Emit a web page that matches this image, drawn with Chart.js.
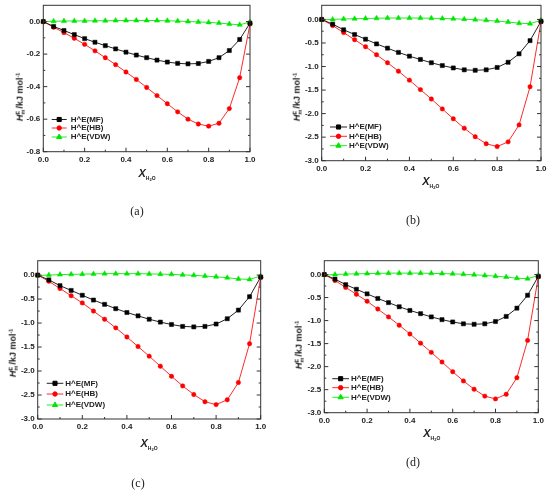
<!DOCTYPE html>
<html>
<head>
<meta charset="utf-8">
<script src="https://cdn.jsdelivr.net/npm/chart.js@4.4.0/dist/chart.umd.min.js"></script>
<style>
  body { margin: 0; background: #fff; }
  #fig { position: relative; width: 550px; height: 490px; overflow: hidden; font-family: "Liberation Sans", Arial, sans-serif; color: #222; }
  #fig canvas { position: absolute; }
  .xt { position: absolute; font-size: 11px; font-weight: bold; line-height: 13px; white-space: nowrap; }
  .xt i { font-style: italic; }
  .xt .s1 { font-size: 5px; font-style: normal; position: relative; top: 3px; }
  .xt .s2 { font-size: 4px; position: relative; top: 1px; }
  .yt { position: absolute; font-size: 9px; font-weight: bold; white-space: nowrap; transform: translate(-50%, -50%) rotate(-90deg); line-height: 10px; }
  .yt .ss { display: inline-block; vertical-align: middle; font-size: 5.5px; line-height: 5px; text-align: left; margin-right: 1px; }
  .yt .ss span { display: block; }
  .yt sup { font-size: 5.5px; vertical-align: 3px; }
  .tag { position: absolute; font-family: "Liberation Serif", "DejaVu Serif", serif; font-size: 12px; transform: translate(-50%, -50%); }
</style>
</head>
<body>
<div id="fig"></div>
<script>
// DATA
const xValues = [0, 0.05, 0.1, 0.15, 0.2, 0.25, 0.3, 0.35, 0.4, 0.45, 0.5, 0.55, 0.6, 0.65, 0.7, 0.75, 0.8, 0.85, 0.9, 0.95, 1.0];
const seriesNames = ["H^E(MF)", "H^E(HB)", "H^E(VDW)"];

// panel (a)
const mfA = [0, -0.03, -0.055, -0.08, -0.105, -0.127, -0.148, -0.168, -0.188, -0.206, -0.222, -0.237, -0.249, -0.257, -0.26, -0.258, -0.245, -0.222, -0.178, -0.11, -0.01];
const hbA = [0, -0.035, -0.068, -0.103, -0.14, -0.18, -0.222, -0.265, -0.31, -0.356, -0.405, -0.455, -0.505, -0.555, -0.6, -0.63, -0.643, -0.625, -0.535, -0.345, -0.015];
const vdwA = [0, 0.002, 0.003, 0.004, 0.004, 0.005, 0.005, 0.006, 0.007, 0.007, 0.007, 0.006, 0.005, 0.003, 0, -0.002, -0.005, -0.009, -0.015, -0.02, -0.003];

// panels (b), (c), (d)
const mfB = [0, -0.1, -0.22, -0.32, -0.42, -0.52, -0.61, -0.7, -0.78, -0.85, -0.92, -0.98, -1.03, -1.07, -1.08, -1.07, -1.02, -0.91, -0.73, -0.45, -0.04];
const hbB = [0, -0.13, -0.28, -0.43, -0.58, -0.75, -0.92, -1.1, -1.29, -1.49, -1.69, -1.9, -2.11, -2.31, -2.49, -2.64, -2.7, -2.6, -2.24, -1.43, -0.05];
const vdwB = [-0.01, 0, 0.01, 0.015, 0.02, 0.025, 0.03, 0.03, 0.03, 0.03, 0.025, 0.02, 0.015, 0.005, -0.005, -0.02, -0.035, -0.055, -0.08, -0.09, -0.02];

// tick labels
const xTicks = [0, 0.2, 0.4, 0.6, 0.8, 1.0];
const yTicksA = [0, -0.2, -0.4, -0.6, -0.8];
const yTicksB = [0, -0.5, -1.0, -1.5, -2.0, -2.5, -3.0];

// LAYOUT (cell coordinates, each cell 275x245)
const M = 20; // canvas margin around each cell
const panels = [
  { tag: "(a)", cell: [0, 0], area: [43.3, 5.3, 250, 151.7], yMin: -0.8, yMax: 0.1, yTicks: yTicksA, series: [mfA, hbA, vdwA],
    legend: { x1: 51.7, x2: 66.7, tx: 70.7, rows: [119.5, 128, 137] }, xTitle: [143, 173], yTitle: [19, 97], tagPos: [137, 211] },
  { tag: "(b)", cell: [275, 0], area: [46.7, 5.3, 266, 160.7], yMin: -3.0, yMax: 0.3, yTicks: yTicksB, series: [mfB, hbB, vdwB],
    legend: { x1: 55, x2: 72, tx: 74, rows: [127, 136.3, 145.7] }, xTitle: [151.7, 181.5], yTitle: [21, 97], tagPos: [138, 220] },
  { tag: "(c)", cell: [0, 245], area: [37.7, 15.7, 260.7, 174], yMin: -3.0, yMax: 0.3, yTicks: yTicksB, series: [mfB, hbB, vdwB],
    legend: { x1: 46.7, x2: 63.3, tx: 65.3, rows: [138.3, 149, 160] }, xTitle: [145, 198.3], yTitle: [12, 108], tagPos: [138, 238] },
  { tag: "(d)", cell: [275, 245], area: [49.3, 15.7, 263.3, 167.7], yMin: -3.0, yMax: 0.3, yTicks: yTicksB, series: [mfB, hbB, vdwB],
    legend: { x1: 57.3, x2: 74, tx: 76, rows: [133.7, 142.7, 152.3] }, xTitle: [152.7, 188.3], yTitle: [22.7, 100], tagPos: [138, 217] }
];

const styles = [
  { line: "#222222", fill: "#000000", pointStyle: "rect", radius: 2.9 },
  { line: "#ff2a2a", fill: "#ff0000", pointStyle: "circle", radius: 2.2 },
  { line: "#22ee22", fill: "#00e600", pointStyle: "triangle", radius: 3 }
];

const tickFont = { family: "Liberation Sans", size: 8, weight: "bold" };

// frame and inward ticks
const framePlugin = {
  id: "frame",
  afterDatasetsDraw(chart) {
    const { ctx, chartArea: a, scales } = chart;
    const x = scales.x, y = scales.y;
    ctx.save();
    ctx.strokeStyle = "#333";
    ctx.lineWidth = 1;
    ctx.strokeRect(a.left, a.top, a.right - a.left, a.bottom - a.top);
    ctx.beginPath();
    const yt = y.ticks.map(t => t.value);
    const yStep = Math.abs(yt[1] - yt[0]);
    yt.forEach(v => {
      const p = y.getPixelForValue(v);
      ctx.moveTo(a.left, p); ctx.lineTo(a.left + 4, p);
      ctx.moveTo(a.right, p); ctx.lineTo(a.right - 4, p);
      const m = y.getPixelForValue(v - yStep / 2);
      if (m < a.bottom) {
        ctx.moveTo(a.left, m); ctx.lineTo(a.left + 2, m);
        ctx.moveTo(a.right, m); ctx.lineTo(a.right - 2, m);
      }
    });
    const xt = x.ticks.map(t => t.value);
    const xStep = xt[1] - xt[0];
    xt.forEach(v => {
      const p = x.getPixelForValue(v);
      ctx.moveTo(p, a.bottom); ctx.lineTo(p, a.bottom - 4);
      const m = x.getPixelForValue(v + xStep / 2);
      if (m < a.right) { ctx.moveTo(m, a.bottom); ctx.lineTo(m, a.bottom - 2); }
    });
    ctx.stroke();
    ctx.restore();
  }
};

// legend inside the plot box
const innerLegend = {
  id: "innerLegend",
  afterDraw(chart, args, opts) {
    const { ctx } = chart;
    ctx.save();
    ctx.font = "bold 8px 'Liberation Sans'";
    ctx.textBaseline = "middle";
    chart.data.datasets.forEach((ds, i) => {
      const yy = opts.rows[i] + M;
      ctx.strokeStyle = ds.borderColor;
      ctx.lineWidth = 1;
      ctx.beginPath();
      ctx.moveTo(opts.x1 + M, yy);
      ctx.lineTo(opts.x2 + M, yy);
      ctx.stroke();
      ctx.fillStyle = ds.pointBackgroundColor;
      ctx.strokeStyle = ds.pointBackgroundColor;
      Chart.helpers.drawPoint(ctx, { pointStyle: ds.pointStyle, radius: ds.pointRadius, rotation: 0, borderWidth: 0.5 }, (opts.x1 + opts.x2) / 2 + M, yy);
      ctx.fillStyle = "#222";
      ctx.fillText(ds.label, opts.tx + M, yy);
    });
    ctx.restore();
  }
};

const fig = document.getElementById("fig");

function addText(cls, html, left, top) {
  const d = document.createElement("div");
  d.className = cls;
  d.innerHTML = html;
  d.style.left = left + "px";
  d.style.top = top + "px";
  fig.appendChild(d);
}

panels.forEach(p => {
  const W = 275 + 2 * M, H = 245 + 2 * M;
  const canvas = document.createElement("canvas");
  canvas.width = W;
  canvas.height = H;
  canvas.style.left = (p.cell[0] - M) + "px";
  canvas.style.top = (p.cell[1] - M) + "px";
  fig.appendChild(canvas);

  const [l, t, r, b] = p.area;
  const xAxisH = 16;

  new Chart(canvas.getContext("2d"), {
    type: "line",
    data: {
      datasets: p.series.map((arr, i) => ({
        label: seriesNames[i],
        data: xValues.map((x, k) => ({ x: x, y: arr[k] })),
        borderColor: styles[i].line,
        borderWidth: 1,
        pointStyle: styles[i].pointStyle,
        pointRadius: styles[i].radius,
        pointBackgroundColor: styles[i].fill,
        pointBorderColor: styles[i].fill,
        pointBorderWidth: 0.5,
        fill: false,
        tension: 0
      }))
    },
    options: {
      responsive: false,
      animation: false,
      clip: false,
      layout: { padding: { left: 0, top: t + M, right: W - (r + M), bottom: H - (b + M) - xAxisH } },
      plugins: {
        legend: { display: false },
        tooltip: { enabled: false },
        innerLegend: p.legend
      },
      scales: {
        x: {
          type: "linear",
          min: 0,
          max: 1,
          afterBuildTicks: s => { s.ticks = xTicks.map(v => ({ value: v })); },
          afterFit: s => { s.height = xAxisH; },
          grid: { display: false, drawTicks: false },
          border: { display: false },
          ticks: { font: tickFont, color: "#222", padding: 3, maxRotation: 0, callback: v => v.toFixed(1) }
        },
        y: {
          min: p.yMin,
          max: p.yMax,
          afterBuildTicks: s => { s.ticks = p.yTicks.map(v => ({ value: v })); },
          afterFit: s => { s.width = l + M; },
          grid: { display: false, drawTicks: false },
          border: { display: false },
          ticks: { font: tickFont, color: "#222", padding: 3, callback: v => v.toFixed(1) }
        }
      }
    },
    plugins: [framePlugin, innerLegend]
  });

  const cx = p.cell[0], cy = p.cell[1];
  addText("xt", '<i>X</i><span class="s1">H<span class="s2">2</span>O</span>', cx + p.xTitle[0] - 4.5, cy + p.xTitle[1] - 6.5);
  addText("yt", '<i>H</i><span class="ss"><span>E</span><span>m</span></span>/kJ mol<sup>-1</sup>', cx + p.yTitle[0], cy + p.yTitle[1]);
  addText("tag", p.tag, cx + p.tagPos[0], cy + p.tagPos[1]);
});
</script>
</body>
</html>
